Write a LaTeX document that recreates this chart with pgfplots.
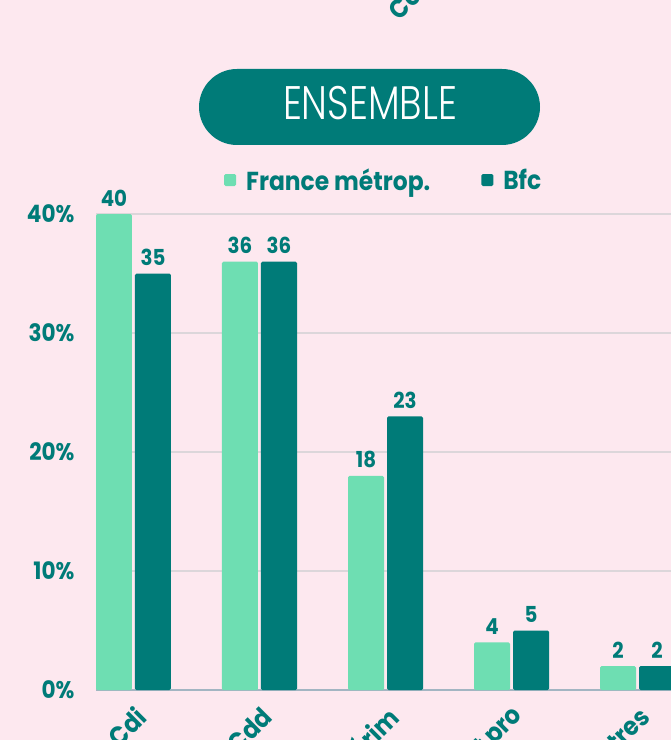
\documentclass[border=0pt]{standalone}
\usepackage{pgfplots}
\pgfplotsset{compat=1.18}
\usepackage{fontspec}
\setmainfont{Poppins}[FakeStretch=0.9]
\newfontfamily\titlefont{Poppins Light}[FakeStretch=0.8]

\definecolor{bgpink}{HTML}{FDE8EF}
\definecolor{lgreen}{HTML}{6EDEB2}
\definecolor{dteal}{HTML}{007B78}
\definecolor{axisgray}{HTML}{A3B5C2}
\definecolor{gridgray}{HTML}{DCD6DA}

\begin{document}
\begin{tikzpicture}
\useasboundingbox (0,0) rectangle (671pt,740pt);
\clip (0,0) rectangle (671pt,740pt);
\fill[bgpink] (0,0) rectangle (671pt,740pt);
% title pill
\fill[dteal, rounded corners=38pt] (199pt,595pt) rectangle (540pt,671pt);
\node[text=white, font=\titlefont\fontsize{47}{47}\selectfont] at (370pt,637pt) {ENSEMBLE};
% label cut off from the chart above
\node[rotate=45, anchor=base west, text=dteal, font=\bfseries\fontsize{26}{26}\selectfont]
  at (397pt,716pt) {Contrat pro};

\begin{axis}[
  at={(96pt,50pt)}, anchor=south west,
  scale only axis, width=604.5pt, height=523.6pt,
  xmin=-0.2976, xmax=4.5, ymin=0, ymax=44,
  ybar=3pt, bar width=36pt,
  axis x line*=bottom, axis y line*=left,
  x axis line style={draw=axisgray, line width=1.2pt},
  y axis line style={draw=none},
  major tick length=0pt,
  xtick={0,...,4},
  xticklabels={Cdi,Cdd,Intérim,Contrat pro,Autres},
  ytick={0,10,20,30,40},
  yticklabel={\pgfmathprintnumber{\tick}\%},
  /pgf/number format/assume math mode=true,
  ymajorgrids, grid style={gridgray, line width=1.2pt},
  every tick label/.append style={font=\bfseries\fontsize{24}{24}\selectfont, text=dteal},
  yticklabel style={xshift=-18pt},
  xticklabel style={xshift=10pt, yshift=-20pt, rotate=45, anchor=east, font=\bfseries\fontsize{26}{26}\selectfont},
  nodes near coords,
  nodes near coords style={font=\bfseries\fontsize{22}{22}\selectfont, text=dteal, yshift=4pt},
  legend columns=2,
  legend style={at={(0.2068,0.974)}, anchor=west, draw=none, fill=none,
    font=\bfseries\fontsize{26}{26}\selectfont, text=dteal,
    /tikz/every even column/.append style={column sep=49pt}},
  legend image code/.code={\fill[#1] (0pt,-6pt) rectangle (12pt,6pt); \path (0pt,0pt) (20pt,0pt);},
]
\addplot[fill=lgreen, draw=none, rounded corners=1.5pt]
  coordinates {(0,40) (1,36) (2,18) (3,4) (4,2)};
\addplot[fill=dteal, draw=none, rounded corners=1.5pt]
  coordinates {(0,35) (1,36) (2,23) (3,5) (4,2)};
\legend{France métrop., Bfc}
\end{axis}
\end{tikzpicture}
\end{document}
